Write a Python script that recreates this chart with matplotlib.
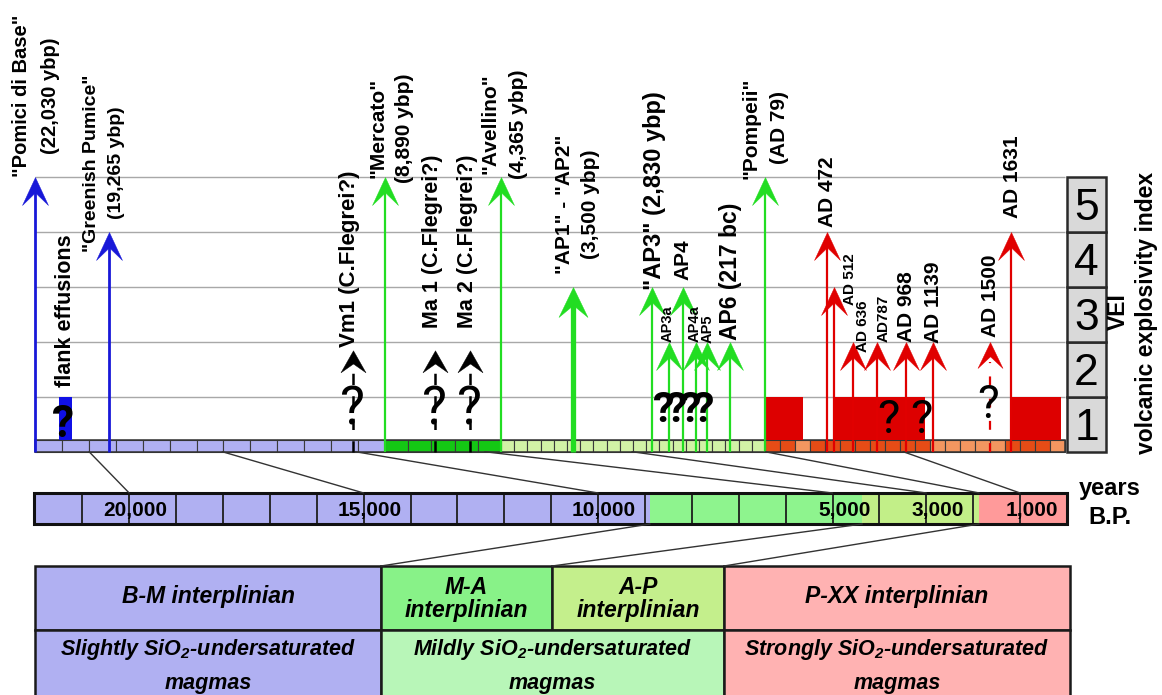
import numpy as np
import matplotlib
matplotlib.use("Agg")
import matplotlib.pyplot as plt
from matplotlib.path import Path
from matplotlib.patches import Rectangle, ConnectionPatch

plt.rcParams['font.family'] = ['Liberation Sans', 'DejaVu Sans']
plt.rcParams['mathtext.fontset'] = 'custom'
plt.rcParams['mathtext.rm'] = 'Liberation Sans:bold:italic'
plt.rcParams['mathtext.it'] = 'Liberation Sans:bold:italic'
plt.rcParams['mathtext.bf'] = 'Liberation Sans:bold:italic'

# ------------------------------------------------------------------ data
EVENT_NAMES = ['Pomici di Base', 'Greenish Pumice', 'Vm1', 'Mercato', 'Ma 1', 'Ma 2',
               'Avellino', 'AP1-AP2', 'AP3', 'AP3a', 'AP4', 'AP4a', 'AP5', 'AP6',
               'Pompeii', 'AD 472', 'AD 512', 'AD 636', 'AD 787', 'AD 968', 'AD 1139',
               'AD 1500', 'AD 1631']
EVENT_AGE_BP = [22030, 19265, 10100, 8890, 6940, 5575, 4365, 3500, 2830, 2686, 2567,
                2457, 2363, 2167, 1871, 1478, 1438, 1314, 1163, 982, 811, 450, 319]
EVENT_VEI = [5, 4, 2, 5, 2, 2, 5, 3, 3, 2, 3, 2, 2, 2, 5, 4, 3, 2, 2, 2, 2, 2, 4]
EVENT_KIND = ['blue', 'blue', 'black?', 'green', 'black?', 'black?', 'green', 'green',
              'green', 'green', 'green', 'green', 'green', 'green', 'green', 'red', 'red',
              'red', 'red', 'red', 'red', 'red?', 'red']
EVENT_LABELS = ['"Pomici di Base"\n(22,030 ybp)', '"Greenish Pumice"\n(19,265 ybp)',
                'Vm1 (C.Flegrei?)', '"Mercato"\n(8,890 ybp)', 'Ma 1 (C.Flegrei?)',
                'Ma 2 (C.Flegrei?)', '"Avellino"\n(4,365 ybp)', '"AP1" - "AP2"\n(3,500 ybp)',
                '"AP3" (2,830 ybp)', 'AP3a', 'AP4', 'AP4a', 'AP5', 'AP6 (217 bc)',
                '"Pompeii"\n(AD 79)', 'AD 472', 'AD 512', 'AD 636', 'AD787', 'AD 968',
                'AD 1139', 'AD 1500', 'AD 1631']

FLANK_PERIOD_BP = (21130, 20640)
FLANK_VEI = 1
RED_BLOCKS_AD = [(79, 320), (512, 1085), (1631, 1944)]
RED_BLOCK_VEI = 1
ORANGE_DARK_AD = [(79, 300), (375, 1155), (1560, 1900)]

Q_AGE_BP = [20979, 10100, 6940, 5575, 2728, 2618, 2499, 2389, 1096, 882, 465]
Q_KIND = ['flank', 'black', 'black', 'black', 'ap', 'ap', 'ap', 'ap', 'block', 'block', 'red']

VEI_LEVELS = [1, 2, 3, 4, 5]

# schematic (stretched) upper time axis: knots age BP -> position
SCALE_KNOTS_BP = [22030, 8890, 4365, 3500, 1871, -20]
SCALE_KNOTS_POS = [0, 350, 466, 538, 730, 1030]
UP_SEGMENTS = [(22030, 8890, 13, 'blue'), (8890, 4365, 5, 'green'),
               (4365, 1871, 20, 'lightgreen'), (1871, -20, 20, 'orange')]

LOW_BOUNDS_BP = [22030, 8890, 4365, 1871, 0]
LOW_COLORS = ['#b0b0f2', '#8ef48e', '#c2ef88', '#ff9a9a']
LOW_TICKS = [20000, 15000, 10000, 5000, 3000, 1000]
UP_LOW_LINKS = [20000, 15000, 10000, 5000, 3000, 1871, 1000]

PERIODS = ['B-M interplinian', 'M-A\ninterplinian', 'A-P\ninterplinian', 'P-XX interplinian']
PERIOD_COLORS = ['#b0b0f2', '#88f288', '#c4ef8c', '#ffb2b2']
MAGMAS = ['Slightly SiO$_2$-undersaturated\nmagmas', 'Mildly SiO$_2$-undersaturated\nmagmas',
          'Strongly SiO$_2$-undersaturated\nmagmas']
MAGMA_COLORS = ['#b0b0f2', '#b8f6b8', '#ffb2b2']
PERIOD_LINK_BP = [8890, 4365, 1871]

# ------------------------------------------------------------------ layout / style
W, H = 1162, 695
PX = 0.72  # points per pixel
UP_BOTTOM = 451.7
VEI_STEP = 55.0
BAR_V = 11.7 / VEI_STEP

COLORS = {'blue': '#1818d8', 'green': '#22dd22', 'red': '#e00000',
          'black?': 'black', 'red?': '#e00000'}
UP_CELL = {'blue': '#b0b0f2', 'green': '#14c814', 'lightgreen': '#d2f2a6'}
ORANGE_DARK, ORANGE_LIGHT = '#e64c16', '#f39660'

# name: (dx_px, dy_px, fontsize_pt, line_gap_px)
LABEL_LAYOUT = {
    'Pomici di Base': (1, 80.7, 14.5, 28), 'Greenish Pumice': (-5, 68.7, 14, 25),
    'Vm1': (-3, -5.3, 16, 0), 'Mercato': (6.5, 48.7, 15, 27),
    'Ma 1': (-2, 13.7, 15.5, 0), 'Ma 2': (-2, 13.7, 15.5, 0),
    'Avellino': (3, 52.7, 15, 28), 'AP1-AP2': (4.5, 82.7, 15, 25),
    'AP3': (3, -3.3, 17, 0), 'AP3a': (-1, 0, 10.5, 0), 'AP4': (0, 6.7, 15, 0),
    'AP4a': (-1, 0, 10.5, 0), 'AP5': (1, -1, 10.5, 0), 'AP6': (0, 1.7, 16.5, 0),
    'Pompeii': (0, 48.7, 15, 29), 'AD 472': (0, 4.7, 15, 0),
    'AD 512': (16, -18.3, 11, 0), 'AD 636': (10, -10.3, 11, 0),
    'AD 787': (6, 0, 11, 0), 'AD 968': (0, 0, 15, 0), 'AD 1139': (0, -1, 15, 0),
    'AD 1500': (0, 4.7, 15, 0), 'AD 1631': (1, 13.7, 15, 0),
}
Q_STYLE = {'flank': (0.27, 32, 'bold'), 'black': (0.50, 38, 'normal'),
           'ap': (0.54, 31, 'bold'), 'block': (0.34, 34, 'normal'),
           'red': (0.61, 33, 'normal')}


def box(l, t, r, b):
    return [l / W, 1 - b / H, (r - l) / W, (b - t) / H]


XK = -np.array(SCALE_KNOTS_BP, float)
PK = np.array(SCALE_KNOTS_POS, float)
S0 = (PK[1] - PK[0]) / (XK[1] - XK[0])
S1 = (PK[-1] - PK[-2]) / (XK[-1] - XK[-2])


def _pos(bp):
    x = -np.asarray(bp, float)
    y = np.interp(x, XK, PK)
    y = np.where(x < XK[0], PK[0] + (x - XK[0]) * S0, y)
    y = np.where(x > XK[-1], PK[-1] + (x - XK[-1]) * S1, y)
    return y


def _age(p):
    p = np.asarray(p, float)
    x = np.interp(p, PK, XK)
    x = np.where(p < PK[0], XK[0] + (p - PK[0]) / S0, x)
    x = np.where(p > PK[-1], XK[-1] + (p - PK[-1]) / S1, x)
    return -x


# forward must increase with the data value (age BP); axis is then inverted by the limits
def fwd(bp):
    return -_pos(bp)


def inv(q):
    return _age(-np.asarray(q, float))


def head(length, halfw, notch, offset=0.0):
    v = [(0, -offset), (halfw, -offset - length), (0, -offset - length * notch),
         (-halfw, -offset - length), (0, -offset)]
    codes = [Path.MOVETO, Path.LINETO, Path.LINETO, Path.LINETO, Path.CLOSEPOLY]
    ms = 2 * (offset + length) * PX
    return Path(v, codes), ms


fig = plt.figure(figsize=(W / 100, H / 100), dpi=100)
fig.patch.set_facecolor('white')

# ------------------------------------------------------------------ upper panel
ax = fig.add_axes(box(35, 0, 1065, UP_BOTTOM))
ax.set_xscale('function', functions=(fwd, inv))
ax.set_xlim(22030, -20)
ax.set_ylim(0, UP_BOTTOM / VEI_STEP)
ax.set_autoscale_on(False)
ax.axis('off')

ax.hlines(VEI_LEVELS, 22030, -20, colors='#a8a8a8', lw=1.0, zorder=1, clip_on=False)

# schematic bar
for b0, b1, n, kind in UP_SEGMENTS:
    edges = _age(np.linspace(_pos(b0), _pos(b1), n + 1))
    for e0, e1 in zip(edges[:-1], edges[1:]):
        if kind == 'orange':
            ad_mid = 1950 - 0.5 * (e0 + e1)
            dark = any(a <= ad_mid <= b for a, b in ORANGE_DARK_AD)
            fc = ORANGE_DARK if dark else ORANGE_LIGHT
        else:
            fc = UP_CELL[kind]
        ax.add_patch(Rectangle((e0, 0), e1 - e0, BAR_V, fc=fc, ec='#3a3a3a', lw=0.8,
                               zorder=2, clip_on=False))
ax.add_patch(Rectangle((22030, 0), -22050, BAR_V, fill=False, ec='#333333', lw=1.1,
                       zorder=2, clip_on=False))

# flank effusions and red activity blocks
ax.add_patch(Rectangle((FLANK_PERIOD_BP[0], BAR_V), FLANK_PERIOD_BP[1] - FLANK_PERIOD_BP[0],
                       FLANK_VEI - BAR_V, fc='#1010e6', ec='none', zorder=2))
for a0, a1 in RED_BLOCKS_AD:
    ax.add_patch(Rectangle((1950 - a0, BAR_V), (1950 - a1) - (1950 - a0),
                           RED_BLOCK_VEI - BAR_V, fc='#dd0000', ec='none', zorder=2))

# arrows
for name, age, vei, kind in zip(EVENT_NAMES, EVENT_AGE_BP, EVENT_VEI, EVENT_KIND):
    col = COLORS[kind]
    if kind == 'black?':
        path, ms = head(22, 12.5, 0.6, offset=8.3)
        top = vei - (8.3 + 12) / VEI_STEP
        ax.plot([age, age], [0, top], color=col, lw=1.8, ls=(0, (4.5, 4.5)), zorder=3,
                solid_capstyle='butt', dash_capstyle='butt', clip_on=False)
    elif kind == 'red?':
        path, ms = head(26, 12.5, 0.55)
        ax.plot([age, age], [0, vei - 20 / VEI_STEP], color=col, lw=1.6, ls=(0, (4, 6)),
                zorder=3, dash_capstyle='butt', clip_on=False)
    else:
        if name == 'AP1-AP2':
            path, ms = head(30, 14.5, 0.6)
            lw = 3.8
        else:
            path, ms = head(28, 13, 0.55)
            lw = 2.0 if kind == 'blue' else 1.6
        ax.plot([age, age], [0, vei - 12 / VEI_STEP], color=col, lw=lw, zorder=3,
                solid_capstyle='butt', clip_on=False)
    ax.plot([age], [vei], marker=path, ms=ms, mfc=col, mec=col, mew=0.3, ls='none',
            zorder=4, clip_on=False)

# labels
for name, age, vei, text in zip(EVENT_NAMES, EVENT_AGE_BP, EVENT_VEI, EVENT_LABELS):
    dx, dy, fs, gap = LABEL_LAYOUT[name]
    lines = text.split('\n')
    if len(lines) == 1:
        ax.annotate(text, xy=(age, vei), xytext=(dx * PX, dy * PX), textcoords='offset points',
                    rotation=90, ha='center', va='bottom', fontsize=fs, fontweight='bold',
                    zorder=6, annotation_clip=False)
    else:
        n = len(lines)
        for i, ln in enumerate(lines):
            off = (i - (n - 1) / 2) * gap
            ax.annotate(ln, xy=(age, vei), xytext=((dx + off) * PX, dy * PX),
                        textcoords='offset points', rotation=90, ha='center', va='center',
                        fontsize=fs, fontweight='bold', zorder=6, annotation_clip=False)

ax.annotate('flank effusions', xy=(0.5 * sum(FLANK_PERIOD_BP), FLANK_VEI), xytext=(0, 9.7 * PX),
            textcoords='offset points', rotation=90, ha='center', va='bottom',
            fontsize=15.5, fontweight='bold', zorder=6)

for age, kind in zip(Q_AGE_BP, Q_KIND):
    yv, fs, fw = Q_STYLE[kind]
    ax.text(age, yv, '?', ha='center', va='baseline', fontsize=fs, fontweight=fw,
            family=['Roboto', 'DejaVu Sans'], color='black', zorder=5)

# ------------------------------------------------------------------ VEI boxes
axv = fig.add_axes(box(1067, 0, 1106, UP_BOTTOM))
axv.set_xlim(0, 1)
axv.set_ylim(0, UP_BOTTOM / VEI_STEP)
axv.axis('off')
for k in VEI_LEVELS:
    axv.add_patch(Rectangle((0, k - 1), 1, 1, fc='#d9d9d9', ec='#2a2a2a', lw=1.8,
                            clip_on=False))
    axv.text(0.5, k - 1 + 12 / VEI_STEP, str(k), ha='center', va='baseline', fontsize=32)

fig.text(1118 / W, 1 - 312 / H, 'VEI', rotation=90, ha='center', va='center',
         fontsize=16.5, fontweight='bold')
fig.text(1147 / W, 1 - 313 / H, 'volcanic explosivity index', rotation=90, ha='center',
         va='center', fontsize=16.5, fontweight='bold')

# ------------------------------------------------------------------ lower (linear) bar
axl = fig.add_axes(box(34, 493, 1067, 524))
axl.set_xlim(22030, 0)
axl.set_ylim(0, 1)
axl.axis('off')
for (b0, b1), c in zip(zip(LOW_BOUNDS_BP[:-1], LOW_BOUNDS_BP[1:]), LOW_COLORS):
    axl.axvspan(b0, b1, color=c, lw=0, zorder=1)
axl.vlines(np.arange(1000, 22000, 1000), 0, 1, colors='#1e1e1e', lw=1.3, zorder=2)
axl.add_patch(Rectangle((22030, 0), -22030, 1, fill=False, ec='#111111', lw=2.2, zorder=3,
                        clip_on=False))
for t in LOW_TICKS:
    s = f"{t:,}"
    nb = len(s.split(',')[0])
    fs = 15
    dx = (0.834 - 0.278 * nb) * fs
    axl.annotate(s, xy=(t, 0.5), xytext=(dx, 0), textcoords='offset points', ha='center',
                 va='center_baseline', fontsize=fs, fontweight='bold', zorder=4)

fig.text(1110 / W, 1 - 488 / H, 'years', ha='center', va='center', fontsize=17,
         fontweight='bold')
fig.text(1110 / W, 1 - 517 / H, 'B.P.', ha='center', va='center', fontsize=17,
         fontweight='bold')

for t in UP_LOW_LINKS:
    con = ConnectionPatch(xyA=(t, 0), coordsA=ax.transData, xyB=(t, 1), coordsB=axl.transData,
                          color='#333333', lw=1.0)
    fig.add_artist(con)

# ------------------------------------------------------------------ table
axt = fig.add_axes(box(35, 566, 1070, 705))
TAB_W = 1035
axt.set_xlim(0, TAB_W)
axt.set_ylim(139, 0)
axt.axis('off')
TOP_WIDTHS = [346, 171, 172, 346]
BOT_WIDTHS = [346, 343, 346]
ROW1_H = 64

x0 = 0
for lab, c, w in zip(PERIODS, PERIOD_COLORS, TOP_WIDTHS):
    axt.add_patch(Rectangle((x0, 0), w, ROW1_H, fc=c, ec='#1a1a1a', lw=1.8, clip_on=False))
    lines = lab.split('\n')
    if len(lines) == 1:
        axt.text(x0 + w / 2, 31, lab, ha='center', va='center', fontsize=16.5,
                 fontweight='bold', style='italic')
    else:
        for ln, yy in zip(lines, [21, 45]):
            axt.text(x0 + w / 2, yy, ln, ha='center', va='center', fontsize=16.5,
                     fontweight='bold', style='italic')
    x0 += w
x0 = 0
for lab, c, w in zip(MAGMAS, MAGMA_COLORS, BOT_WIDTHS):
    axt.add_patch(Rectangle((x0, ROW1_H), w, 139 - ROW1_H, fc=c, ec='#1a1a1a', lw=1.8,
                            clip_on=False))
    for ln, yy in zip(lab.split('\n'), [84, 117]):
        axt.text(x0 + w / 2, yy, ln, ha='center', va='center', fontsize=15.5,
                 fontweight='bold', style='italic')
    x0 += w

bounds = np.cumsum(TOP_WIDTHS)[:-1]
for bp, bx in zip(PERIOD_LINK_BP, [bounds[0], bounds[1], bounds[2]]):
    con = ConnectionPatch(xyA=(bp, 0), coordsA=axl.transData, xyB=(bx, 0),
                          coordsB=axt.transData, color='#333333', lw=1.0)
    fig.add_artist(con)

fig.savefig('out.png', dpi=100, facecolor='white')
